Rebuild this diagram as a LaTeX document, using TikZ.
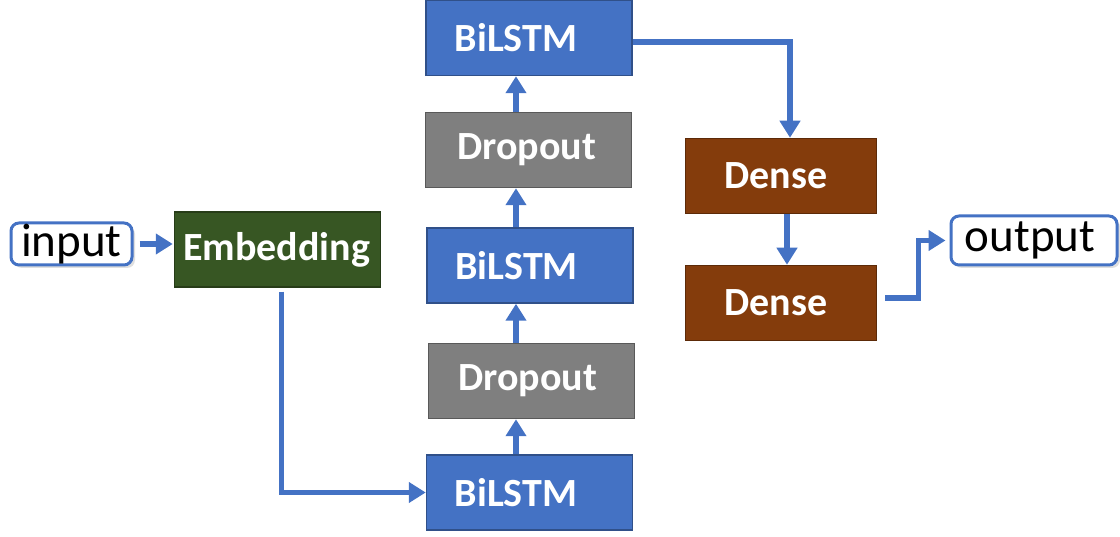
\documentclass[tikz,border=0pt]{standalone}
\usepackage{fontspec}
\setmainfont{Carlito}
\usetikzlibrary{arrows.meta,shadows}
\definecolor{lstmblue}{HTML}{4472C4}
\definecolor{dropgray}{HTML}{7F7F7F}
\definecolor{embgreen}{HTML}{375623}
\definecolor{densebrown}{HTML}{843C0C}
\begin{document}
\begin{tikzpicture}[x=1pt,y=-1pt,
  layer/.style={fill=#1,draw=#1!70!black,line width=1.5pt,text=white,
    font=\bfseries\fontsize{40}{40}\selectfont,inner sep=0pt,
    minimum width=206pt,minimum height=75pt},
  nudge/.style={execute at end node={\kern#1pt}},
  io/.style={fill=white,draw=lstmblue,line width=3pt,rounded corners=8pt,
    font=\fontsize{47}{47}\selectfont,inner sep=0pt,
    drop shadow={opacity=0.25,shadow xshift=3pt,shadow yshift=-3pt}},
  flow/.style={draw=lstmblue,line width=5.5pt,
    -{Triangle[length=17pt,width=20pt]}}]
\useasboundingbox(0,0)rectangle(1120,537);
% input side
\node[io,minimum width=121pt,minimum height=42pt](in)at(71.5,244){input};
\node[layer=embgreen,nudge=2](emb)at(277.5,249.5){Embedding};
% stacked layers
\node[layer=lstmblue,nudge=27](lstmA)at(529.5,492.5){BiLSTM};
\node[layer=dropgray,nudge=8](dropA)at(531.5,381){Dropout};
\node[layer=lstmblue,nudge=27](lstmB)at(530,265.5){BiLSTM};
\node[layer=dropgray,nudge=4](dropB)at(528.5,150){Dropout};
\node[layer=lstmblue,nudge=26](lstmC)at(529,38){BiLSTM};
% output side
\node[layer=densebrown,minimum width=191pt,nudge=10](denseA)at(781,176){Dense};
\node[layer=densebrown,minimum width=191pt,nudge=10](denseB)at(781,303){Dense};
\node[io,minimum width=166pt,minimum height=49pt,nudge=8](out)at(1034,240.5){output};
\coordinate(col)at(516,0);
% connectors
\draw[flow,shorten <=6pt,shorten >=1pt](in.east)--(in.east-|emb.west);
\draw[flow,shorten <=4pt]([xshift=4pt]emb.south)|-(lstmA.west);
\draw[flow](lstmA.north-|col)--(dropA.south-|col);
\draw[flow](dropA.north-|col)--(lstmB.south-|col);
\draw[flow](lstmB.north-|col)--(dropB.south-|col);
\draw[flow](dropB.north-|col)--(lstmC.south-|col);
\draw[flow]([yshift=-4pt]lstmC.east)-|([xshift=9pt]denseA.north);
\draw[flow]([xshift=6pt]denseA.south)--([xshift=6pt]denseB.north);
\draw[flow,shorten >=4pt]([xshift=8pt,yshift=5pt]denseB.east)--++(33,0)|-(out.west);
\end{tikzpicture}
\end{document}
